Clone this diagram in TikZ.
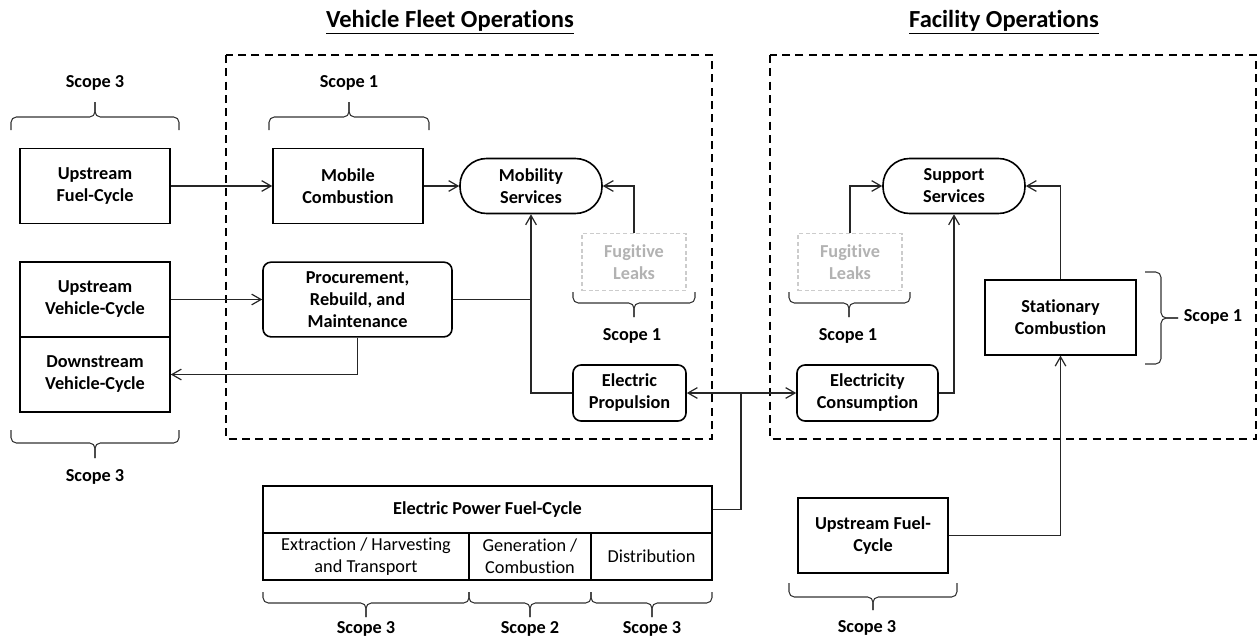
\documentclass[tikz,border=0pt]{standalone}
\usepackage{fontspec}
\setmainfont{Carlito}[Ligatures=NoCommon]
\usetikzlibrary{arrows.meta}

\newcommand{\hbrace}[6]{%
  \draw [scopebrace] (#1,#4) -- (#1,#5) -- (#2,#5) -- (#2,#6);
  \draw [scopebrace] (#3,#4) -- (#3,#5) -- (#2,#5) -- (#2,#6);}

\begin{document}
\begin{tikzpicture}[
  x=0.75pt, y=-0.75pt,
  font=\fontsize{13.7}{16.5}\selectfont\bfseries,
  >={Straight Barb[length=7pt,width=8pt]},
  box/.style={draw, line width=1.2pt, align=center, inner sep=0pt, minimum width=112.5pt, minimum height=56pt},
  rbox/.style={box, rounded corners=6pt},
  svc/.style={box, rounded corners=20pt, minimum width=106.5pt, minimum height=41.25pt},
  leak/.style={draw=black!20, densely dashed, line width=0.8pt, text=black!30, align=center, inner sep=0pt, minimum width=78pt, minimum height=42.75pt},
  cell/.style={box, font=\fontsize{13.7}{16.5}\selectfont\mdseries, minimum height=35.25pt},
  opsbox/.style={line width=1.2pt, dash pattern=on 6pt off 4pt},
  link/.style={line width=0.9pt, black!85},
  conn/.style={link, ->},
  scopebrace/.style={line width=0.8pt, black!80, rounded corners=4pt},
  title/.style={font=\fontsize{18.4}{22}\selectfont\bfseries}
]
\useasboundingbox (0,0) rectangle (1257,639);

\node [title] (vfo) at (450,22) {\underline{Vehicle Fleet Operations}};
\node [title] (fo) at (1004,22) {\underline{Facility Operations}};

\draw [opsbox] (226,55) rectangle (712,439);
\draw [opsbox] (770,55) rectangle (1256,439);

\node [box] (ufc) at (95,186) {Upstream\\Fuel-Cycle};
\node [box] (mc) at (348,186) {Mobile\\Combustion};
\node [svc] (ms) at (531,186) {Mobility\\Services};
\node [leak] (fl1) at (634,262) {Fugitive\\Leaks};
\node [rbox, minimum width=141.75pt] (prm) at (357.5,299.5) {Procurement,\\Rebuild, and\\Maintenance};
\node [box] (uvc) at (95,299.5) {Upstream\\Vehicle-Cycle};
\node [box] (dvc) at (95,374.5) {Downstream\\Vehicle-Cycle};
\node [rbox, minimum width=84.75pt, minimum height=42pt] (ep) at (629.5,393) {Electric\\Propulsion};

\node [svc] (ss) at (954,186) {Support\\Services};
\node [leak] (fl2) at (850,262) {Fugitive\\Leaks};
\node [rbox, minimum width=105.75pt, minimum height=42pt] (ec) at (867.5,393) {Electricity\\Consumption};
\node [box, minimum width=113.25pt] (sc) at (1060.5,317.5) {Stationary\\Combustion};
\node [box] (ufc2) at (873,535.5) {Upstream Fuel-\\Cycle};

\node [box, minimum width=336.75pt, minimum height=35.25pt] (epf) at (487.5,509.5) {Electric Power Fuel-Cycle};
\node [cell, minimum width=154.5pt] (exh) at (366,556.5) {Extraction / Harvesting\\and Transport};
\node [cell, minimum width=91.5pt] (gen) at (530,556.5) {Generation /\\Combustion};
\node [cell, minimum width=90.75pt] (dst) at (651.5,556.5) {Distribution};

\node (s3a) at (95,83) {Scope 3};
\node (s1a) at (349,83) {Scope 1};
\node (s1b) at (632,336) {Scope 1};
\node (s1c) at (848,336) {Scope 1};
\node (s3b) at (95,477) {Scope 3};
\node (s1d) at (1213,317) {Scope 1};
\node (s3c) at (366,629) {Scope 3};
\node (s2) at (530,629) {Scope 2};
\node (s3d) at (652,629) {Scope 3};
\node (s3e) at (867,628) {Scope 3};

\hbrace{11}{95}{179}{130}{117}{102}
\hbrace{269}{349}{429}{130}{117}{102}
\hbrace{573}{634}{695}{292}{303}{317}
\hbrace{789}{849}{910}{292}{303}{317}
\hbrace{11}{95}{179}{430}{443}{458}
\hbrace{263}{366}{469}{592}{603}{617}
\hbrace{469}{530}{591}{592}{603}{617}
\hbrace{591}{652}{712}{592}{603}{617}
\hbrace{789}{873}{957}{583}{597}{610}
\draw [scopebrace] (1145,272) -- (1161,272) -- (1161,318) -- (1178,318);
\draw [scopebrace] (1145,364) -- (1161,364) -- (1161,318) -- (1178,318);

\draw [conn] (ufc.east) -- (mc.west);
\draw [conn] (mc.east) -- (ms.west);
\draw [conn] (fl1.north) |- (ms.east);
\draw [conn] (uvc.east) -- (prm.west);
\draw [conn] (prm.south) |- (dvc.east);
\draw [link] (prm.east) -- (prm.east -| ms.south);
\draw [conn] (ep.west) -| (ms.south);
\draw [link, <->] (ep.east) -- (ec.west);
\coordinate (jn) at (741,393);
\draw [link] (epf.east) -| (jn);
\draw [conn] (ec.east) -| (ss.south);
\draw [conn] (fl2.north) |- (ss.west);
\draw [conn] (sc.north) |- (ss.east);
\draw [conn] (ufc2.east) -| (sc.south);
\end{tikzpicture}
\end{document}
